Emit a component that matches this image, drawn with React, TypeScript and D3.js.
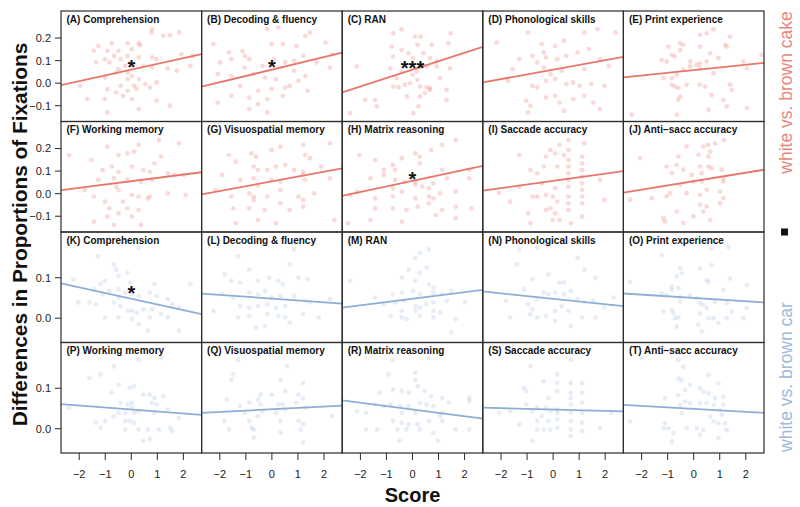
import React from "react";
import * as d3 from "d3";

// ---------- data ----------
const panelTitles = [
  "(A) Comprehension", "(B) Decoding & fluency", "(C) RAN", "(D) Phonological skills", "(E) Print experience",
  "(F) Working memory", "(G) Visuospatial memory", "(H) Matrix reasoning", "(I) Saccade accuracy", "(J) Anti\u2212sacc accuracy",
  "(K) Comprehension", "(L) Decoding & fluency", "(M) RAN", "(N) Phonological skills", "(O) Print experience",
  "(P) Working memory", "(Q) Visuospatial memory", "(R) Matrix reasoning", "(S) Saccade accuracy", "(T) Anti\u2212sacc accuracy",
];

const ptsA = [[0.80,0.24],[0.77,0.225],[1.84,0.225],[1.49,0.213],[1.23,0.21],[-0.75,0.176],[-0.14,0.176],[0.29,0.176],[-1.27,0.165],[0.34,0.168],[-1.44,0.143],[-0.92,0.143],[-0.49,0.143],[0.02,0.15],[-0.66,0.121],[-0.14,0.121],[-1.01,0.106],[-0.41,0.106],[0.29,0.114],[0.80,0.114],[0.97,0.106],[1.92,0.128],[2.35,0.121],[-1.36,0.092],[-0.84,0.092],[-0.24,0.077],[0.11,0.084],[0.46,0.077],[0.80,0.069],[1.40,0.065],[1.75,0.055],[2.27,0.077],[-0.49,0.062],[-0.14,0.047],[0.02,0.032],[-0.58,0.047],[-1.01,0.025],[-0.14,0.018],[0.29,0.018],[-1.96,-0.012],[-0.41,-0.012],[0.11,-0.012],[0.54,-0.004],[0.97,0.003],[0.71,-0.019],[-0.92,-0.027],[-0.14,-0.034],[0.20,-0.027],[-0.58,-0.041],[-0.32,-0.056],[-1.70,-0.071],[-1.01,-0.071],[0.02,-0.071],[0.97,-0.078],[1.49,-0.10],[0.29,-0.115],[-0.92,-0.13]];
const ptsB = [[-2.25,0.173],[-1.65,0.136],[-1.13,0.143],[-1.04,0.121],[-0.01,0.173],[0.42,0.173],[0.94,0.165],[1.28,0.21],[1.46,0.225],[2.06,0.18],[2.32,0.128],[-0.18,0.24],[0.25,0.247],[-1.99,0.092],[-1.56,0.106],[-0.87,0.106],[-0.36,0.077],[0.08,0.106],[0.51,0.092],[0.85,0.099],[1.20,0.121],[1.71,0.092],[2.23,0.069],[-2.08,0.04],[-1.56,0.032],[-0.70,0.04],[-0.27,0.025],[0.16,0.018],[0.68,-0.012],[1.02,0.01],[-1.22,-0.012],[-0.53,-0.034],[-0.01,-0.027],[0.51,-0.019],[-1.56,-0.056],[-0.87,-0.064],[-0.18,-0.071],[0.42,-0.056],[-0.53,-0.093],[-0.87,-0.115],[-0.18,-0.13],[-2.08,-0.086],[1.37,-0.034],[0.85,0.055],[-1.04,0.069],[1.28,0.032]];
const ptsC = [[-0.74,0.221],[-0.42,0.239],[0.10,0.206],[0.31,0.206],[-0.80,0.162],[-0.42,0.147],[0.74,0.17],[0.19,0.17],[0.42,0.133],[-0.74,0.118],[-0.16,0.133],[0.01,0.111],[0.67,0.111],[0.93,0.096],[1.38,0.177],[1.47,0.221],[-2.14,0.074],[-0.86,0.066],[-0.42,0.052],[0.16,0.052],[0.54,0.074],[0.93,0.074],[1.44,0.066],[-0.74,-0.015],[-0.54,-0.018],[-0.29,-0.007],[-0.10,0.0],[0.19,0.015],[0.29,-0.015],[0.54,-0.018],[0.67,-0.03],[0.48,-0.044],[0.29,-0.059],[-1.82,-0.074],[-1.44,-0.074],[-1.37,-0.103],[-0.22,-0.059],[0.23,-0.103],[1.31,-0.03],[1.31,-0.074],[-2.40,-0.133],[0.03,-0.133],[0.67,-0.022],[1.06,0.022],[0.0,0.037],[-0.61,0.022]];
const ptsD = [[-2.17,0.18],[-0.96,0.225],[-0.44,0.173],[-0.36,0.136],[0.08,0.165],[0.42,0.188],[1.20,0.225],[1.71,0.24],[2.40,0.225],[-1.30,0.106],[-0.79,0.121],[-0.27,0.114],[-0.61,0.092],[0.16,0.106],[0.51,0.121],[0.94,0.136],[1.37,0.151],[1.80,0.106],[2.14,0.077],[-1.73,0.01],[-0.79,-0.012],[-0.61,-0.019],[-0.27,0.01],[0.08,0.018],[0.51,-0.004],[0.77,0.003],[1.02,-0.012],[1.46,-0.004],[1.97,-0.012],[-1.04,-0.078],[-0.87,-0.10],[-0.27,-0.064],[0.08,-0.056],[0.25,-0.086],[0.77,-0.071],[1.20,-0.056],[1.54,-0.086],[-0.96,-0.13],[0.42,-0.123],[1.80,-0.115],[-0.36,0.069],[0.33,0.055],[1.20,0.062],[-1.56,0.062],[-0.10,0.04]];
const ptsE = [[0.24,0.214],[0.50,0.221],[0.76,0.239],[-0.97,0.162],[-0.52,0.177],[-0.40,0.17],[-0.84,0.125],[-0.72,0.118],[-0.52,0.147],[-1.23,0.103],[-1.04,0.096],[0.24,0.162],[0.63,0.133],[1.27,0.162],[1.40,0.206],[1.21,0.17],[-0.14,0.096],[0.12,0.081],[0.24,0.088],[0.50,0.096],[0.95,0.111],[1.91,0.096],[2.04,0.066],[2.61,0.125],[-1.16,0.022],[-0.84,0.022],[-0.65,0.037],[-0.40,0.059],[-0.14,0.074],[0.24,0.066],[0.76,0.044],[-0.84,-0.007],[-0.72,-0.015],[-0.59,-0.022],[-0.27,-0.007],[0.24,-0.007],[0.44,-0.015],[1.40,-0.007],[1.46,-0.03],[-0.52,-0.059],[-0.59,-0.074],[0.69,-0.052],[1.14,-0.074],[1.27,-0.103],[0.57,-0.118],[2.04,-0.111],[-2.38,-0.14],[-0.65,-0.14]];
const ptsF = [[-2.39,0.171],[-1.53,0.149],[-0.92,0.208],[-0.49,0.171],[-0.15,0.179],[0.28,0.216],[0.11,0.186],[1.06,0.238],[1.83,0.223],[1.14,0.164],[0.89,0.134],[-0.75,0.12],[-1.10,0.105],[-0.49,0.097],[0.02,0.12],[0.46,0.105],[0.71,0.097],[1.40,0.09],[1.66,0.083],[2.01,0.083],[-1.27,0.061],[-0.67,0.068],[-0.15,0.061],[0.37,0.053],[0.80,0.061],[-0.58,0.031],[-0.49,0.016],[0.02,-0.006],[0.28,-0.013],[0.63,-0.021],[0.71,-0.013],[1.40,0.001],[-1.44,-0.013],[-1.01,-0.035],[-0.32,-0.035],[-0.84,-0.065],[-0.15,-0.065],[0.28,-0.072],[-0.49,-0.087],[-0.92,-0.102],[0.02,-0.102],[-0.67,-0.139],[-1.44,-0.124],[0.37,-0.139],[2.09,-0.006],[-1.79,0.016]];
const ptsG = [[-1.65,0.171],[-1.39,0.142],[-0.79,0.179],[-0.61,0.164],[-0.01,0.194],[0.33,0.208],[1.20,0.216],[2.23,0.223],[1.28,0.171],[1.46,0.157],[-0.70,0.12],[-0.53,0.105],[-0.18,0.105],[0.16,0.12],[0.51,0.127],[0.85,0.105],[1.20,0.097],[1.89,0.12],[-1.91,0.083],[-1.22,0.061],[-0.70,0.068],[-0.53,0.038],[-0.01,0.061],[0.33,0.053],[0.33,0.016],[1.20,0.083],[1.28,0.061],[2.23,0.068],[-1.56,-0.013],[-0.87,0.001],[-0.70,-0.013],[-0.70,-0.028],[-0.18,-0.013],[0.33,-0.043],[1.02,-0.013],[1.20,-0.028],[-2.17,0.016],[-1.48,-0.065],[-0.87,-0.065],[-0.27,-0.072],[0.68,-0.072],[1.20,-0.058],[-0.53,-0.117],[-1.39,-0.131],[0.16,-0.131],[2.40,-0.117],[1.63,0.001]];
const ptsH = [[-2.04,0.171],[-1.44,0.149],[-1.10,0.105],[-0.75,0.127],[-0.67,0.105],[0.11,0.179],[0.28,0.164],[-0.41,0.157],[0.28,0.134],[0.71,0.194],[1.14,0.216],[1.66,0.238],[1.14,0.105],[1.32,0.068],[2.18,0.068],[2.18,0.105],[-1.61,0.068],[-1.10,0.083],[-0.67,0.061],[-0.32,0.053],[0.11,0.053],[-0.75,0.024],[-0.41,0.009],[0.11,0.038],[0.37,0.031],[0.63,0.024],[0.80,0.046],[-2.39,-0.006],[-2.13,0.009],[-1.44,-0.021],[-0.75,-0.013],[0.11,-0.021],[0.63,-0.013],[0.80,-0.021],[1.06,0.001],[1.66,0.009],[-1.44,-0.065],[-0.75,-0.065],[-0.23,-0.072],[0.20,-0.058],[0.63,-0.043],[1.14,-0.072],[1.66,-0.058],[2.27,-0.065],[-0.41,-0.124],[-1.61,-0.117],[-2.48,-0.131],[1.66,-0.109],[0.89,-0.095]];
const ptsI = [[-2.08,0.003],[-1.30,0.171],[-0.87,0.105],[-0.61,0.09],[-0.36,0.12],[-0.27,0.164],[-0.10,0.194],[0.08,0.179],[0.16,0.12],[0.25,0.216],[0.42,0.171],[0.59,0.238],[0.59,0.194],[0.59,0.149],[0.59,0.12],[0.59,0.09],[0.59,0.061],[0.59,0.031],[0.59,-0.013],[0.59,-0.043],[0.59,-0.072],[0.68,-0.131],[1.11,0.164],[1.11,0.134],[1.11,0.105],[1.11,0.075],[1.11,0.046],[1.11,0.016],[1.11,-0.013],[1.11,-0.043],[1.11,-0.102],[-0.61,-0.013],[-0.79,-0.013],[-0.27,-0.006],[0.08,0.024],[-0.01,-0.013],[0.16,-0.035],[-0.27,-0.072],[-0.10,-0.065],[0.08,-0.087],[-0.44,0.046],[-1.30,0.031],[-1.65,-0.035],[-0.96,-0.087],[-0.01,-0.117],[0.25,-0.117],[-0.87,-0.131],[1.20,0.223],[1.80,0.061],[1.97,-0.028]];
const ptsJ = [[-2.06,0.157],[-1.04,0.12],[-0.59,0.164],[-0.27,0.209],[0.18,0.172],[0.37,0.209],[0.57,0.164],[0.82,0.223],[0.63,0.187],[-0.65,0.128],[-0.84,0.091],[-0.40,0.106],[-0.08,0.083],[0.24,0.12],[0.31,0.091],[0.57,0.12],[0.69,0.113],[1.08,0.106],[1.14,0.068],[1.14,0.054],[-0.01,0.054],[0.31,0.054],[-0.52,0.039],[-0.91,0.002],[-0.27,0.002],[0.24,-0.005],[0.50,0.017],[1.01,0.009],[-2.44,-0.027],[-1.61,-0.02],[-1.04,-0.012],[0.24,-0.049],[0.50,-0.057],[0.37,-0.079],[1.01,-0.042],[1.14,-0.02],[-0.65,-0.079],[-1.16,-0.108],[-1.10,-0.123],[-0.40,-0.13],[0.63,-0.116],[-0.01,-0.101],[1.16,0.238],[0.56,0.216]];
const ptsK = [[-2.22,0.096],[-1.27,0.153],[-0.67,0.133],[-0.58,0.12],[0.28,0.174],[-0.15,0.112],[-0.49,0.104],[-1.01,0.092],[-1.18,0.084],[-1.44,0.071],[-1.10,0.059],[-1.61,0.039],[-1.36,0.034],[-0.84,0.067],[-0.49,0.071],[-0.23,0.063],[0.02,0.059],[0.28,0.055],[0.71,0.063],[0.97,0.055],[1.40,0.047],[1.58,0.034],[1.83,0.026],[2.27,0.084],[-0.67,0.039],[-0.41,0.03],[-0.15,0.018],[0.02,0.018],[0.20,0.014],[0.46,0.022],[0.80,0.022],[1.14,0.01],[1.40,0.002],[-1.01,0.002],[-0.49,0.002],[0.02,-0.002],[0.71,0.002],[0.28,-0.015],[1.83,-0.031],[0.63,-0.031],[-2.04,0.039],[-0.06,0.088],[0.89,0.084],[-0.49,0.051]];
const ptsL = [[-1.30,0.153],[0.85,0.17],[0.68,0.133],[-1.82,0.108],[-0.87,0.12],[-1.56,0.092],[-1.22,0.088],[-0.53,0.092],[-0.10,0.10],[0.25,0.092],[0.42,0.084],[1.02,0.10],[1.37,0.096],[-1.91,0.059],[-1.48,0.051],[-0.87,0.063],[-0.53,0.059],[-0.27,0.067],[-0.01,0.051],[0.33,0.055],[0.85,0.055],[1.28,0.043],[1.46,0.039],[-1.22,0.03],[-0.87,0.026],[-0.53,0.03],[-0.18,0.034],[0.16,0.026],[0.51,0.03],[-1.30,0.002],[-0.87,0.006],[-0.18,0.01],[0.25,0.006],[0.51,0.002],[0.68,-0.011],[1.20,0.01],[1.80,0.002],[-0.61,-0.023],[-0.27,-0.019],[-2.25,0.018],[2.23,0.047]];
const ptsM = [[0.11,0.149],[0.28,0.161],[0.63,0.17],[-0.15,0.12],[0.28,0.112],[0.54,0.125],[-2.39,0.092],[-0.41,0.10],[0.11,0.092],[0.63,0.084],[0.80,0.075],[-0.75,0.059],[-0.41,0.063],[0.02,0.067],[0.28,0.059],[0.80,0.063],[1.14,0.059],[1.49,0.067],[-1.10,0.034],[-0.67,0.039],[-0.32,0.043],[0.11,0.03],[0.28,0.026],[0.54,0.034],[0.80,0.039],[1.32,0.043],[2.01,0.039],[-0.84,0.006],[-0.41,0.002],[-0.23,-0.002],[0.28,0.006],[0.80,0.002],[1.06,0.014],[1.66,-0.002],[-1.44,0.051],[1.49,-0.035],[-0.41,0.018],[0.11,0.018],[0.80,0.018]];
const ptsN = [[-1.30,0.17],[-0.61,0.174],[-1.39,0.133],[-0.79,0.096],[-0.18,0.108],[0.25,0.088],[0.94,0.149],[1.20,0.12],[1.63,0.10],[-1.82,0.043],[-0.96,0.034],[-0.79,0.022],[-0.87,0.01],[-0.36,0.063],[-0.18,0.059],[0.08,0.063],[0.42,0.059],[0.68,0.067],[0.94,0.047],[1.20,0.039],[1.54,0.043],[1.97,0.026],[2.32,0.051],[-0.61,0.002],[-0.27,0.006],[0.08,0.018],[0.33,0.03],[0.59,0.018],[1.11,0.002],[1.63,0.002],[-1.65,0.002],[0.08,-0.007],[0.68,-0.019],[-0.61,0.047],[0.42,0.088],[-1.13,0.071]];
const ptsO = [[-1.23,0.156],[0.69,0.172],[1.33,0.176],[0.69,0.131],[0.24,0.123],[-0.52,0.123],[-0.46,0.111],[-0.65,0.103],[0.50,0.094],[0.57,0.09],[-2.44,0.09],[1.14,0.07],[1.40,0.098],[2.04,0.082],[-1.23,0.061],[-1.04,0.057],[-0.84,0.078],[-0.84,0.07],[-0.59,0.074],[-0.52,0.053],[-0.52,0.041],[-0.14,0.057],[0.12,0.049],[0.24,0.037],[0.37,0.033],[0.50,0.025],[0.82,0.041],[1.27,0.037],[-0.84,0.02],[-0.78,0.012],[-0.72,0.0],[-0.59,0.002],[-1.16,0.016],[0.24,0.012],[0.57,0.0],[0.76,0.0],[0.95,-0.012],[1.27,0.0],[1.46,0.016],[1.91,0.0],[2.04,0.025],[-0.65,-0.021],[0.18,-0.016],[0.31,-0.033]];
const ptsP = [[-2.39,0.052],[-1.61,0.125],[-1.18,0.134],[-0.67,0.154],[0.28,0.17],[1.14,0.175],[-0.49,0.109],[-0.75,0.089],[-0.06,0.101],[0.11,0.105],[0.46,0.084],[0.71,0.084],[0.89,0.076],[1.23,0.08],[-0.41,0.064],[-0.15,0.06],[0.02,0.064],[0.80,0.064],[0.97,0.06],[-0.49,0.039],[-0.23,0.039],[-0.67,0.031],[0.11,0.039],[0.28,0.043],[0.89,0.039],[1.40,0.048],[1.83,0.027],[-1.36,0.015],[-1.18,0.002],[-1.01,0.019],[-0.23,0.019],[-0.06,0.019],[0.11,0.015],[-0.23,-0.002],[0.28,-0.002],[0.63,-0.002],[1.06,-0.002],[1.49,0.002],[1.58,-0.006],[0.46,-0.03],[0.71,-0.026],[0.02,0.052]];
const ptsQ = [[-1.30,0.17],[0.59,0.154],[-1.48,0.134],[-1.56,0.121],[0.33,0.121],[1.20,0.113],[-0.44,0.084],[-0.53,0.072],[-0.01,0.084],[0.51,0.093],[1.02,0.084],[1.20,0.076],[-1.73,0.072],[-1.22,0.056],[-0.87,0.064],[-0.44,0.06],[0.25,0.06],[0.42,0.06],[0.94,0.064],[1.28,0.052],[2.32,0.031],[-1.82,0.019],[-1.65,-0.002],[-0.87,0.019],[-0.79,0.002],[-0.70,-0.002],[-0.53,0.031],[0.16,0.039],[0.33,0.019],[1.02,0.019],[1.20,0.011],[1.11,-0.002],[1.20,-0.034],[0.33,-0.01],[-0.70,-0.022],[-1.04,0.039],[0.51,0.048],[-0.36,0.043]];
const ptsR = [[-0.75,0.17],[0.63,0.175],[-0.92,0.134],[0.11,0.138],[0.11,0.121],[-1.27,0.089],[-0.75,0.097],[-0.41,0.093],[-0.15,0.089],[0.20,0.105],[0.46,0.093],[0.71,0.08],[1.14,0.076],[2.18,0.076],[-2.13,0.043],[-1.79,0.039],[-1.44,0.06],[-1.10,0.056],[-0.84,0.06],[-0.49,0.056],[-0.15,0.056],[0.28,0.064],[0.54,0.06],[0.80,0.056],[1.14,0.039],[1.40,0.064],[2.18,0.068],[-1.79,-0.002],[-1.36,-0.002],[-0.75,0.019],[-0.41,0.015],[-0.15,0.011],[0.20,0.011],[0.63,0.019],[1.06,0.031],[1.14,0.019],[1.66,-0.002],[-0.58,-0.002],[-0.23,-0.002],[0.28,-0.002],[0.80,-0.01],[2.18,-0.002],[-0.49,-0.03],[0.97,-0.03],[-0.41,0.039],[0.11,0.039]];
const ptsS = [[-0.87,0.154],[0.68,0.17],[0.16,0.134],[-1.13,0.101],[-1.04,0.093],[-0.36,0.117],[-0.18,0.076],[0.16,0.113],[0.16,0.093],[0.16,0.048],[0.16,0.039],[0.16,0.023],[0.16,0.002],[0.68,0.113],[0.68,0.089],[0.68,0.076],[0.68,0.06],[0.68,0.039],[0.68,0.019],[0.68,-0.002],[0.68,-0.018],[1.11,0.113],[1.11,0.089],[1.11,0.064],[1.11,0.039],[1.11,0.015],[1.11,-0.006],[-2.08,0.039],[-1.65,0.043],[-1.04,0.06],[-0.79,0.043],[-0.61,0.052],[-0.44,0.031],[-0.27,0.052],[-0.10,0.043],[-1.30,0.011],[-0.61,-0.002],[-0.36,-0.002],[-0.10,-0.002],[-0.79,-0.03],[1.80,0.002],[2.23,0.039],[-0.18,0.019],[-0.61,0.019]];
const ptsT = [[-2.00,0.174],[-0.59,0.17],[-0.40,0.153],[-0.59,0.124],[-0.46,0.12],[0.57,0.133],[0.95,0.112],[-1.10,0.075],[-0.59,0.083],[-0.33,0.096],[-0.14,0.108],[0.24,0.1],[0.37,0.091],[0.57,0.087],[0.82,0.075],[1.14,0.079],[1.14,0.059],[-0.52,0.059],[-0.33,0.067],[-0.14,0.063],[0.24,0.063],[0.50,0.063],[0.76,0.059],[1.01,0.046],[-2.44,0.018],[-1.10,0.013],[-1.16,0.001],[-0.97,0.001],[-0.78,-0.011],[-0.46,0.038],[-0.27,0.001],[0.12,0.001],[0.37,-0.003],[0.63,0.03],[0.76,0.018],[0.95,0.013],[1.08,0.034],[1.21,0.013],[1.27,-0.003],[-0.84,-0.032],[0.95,-0.023],[0.24,-0.015]];

// regression line: value = intercept + slope * score
const intercepts = [0.060, 0.060, 0.060, 0.060, 0.058, 0.0555, 0.0545, 0.0565, 0.0565, 0.0555,
  0.048, 0.0485, 0.048, 0.048, 0.050, 0.0475, 0.048, 0.0475, 0.0475, 0.049];
const slopes = [0.0256, 0.0281, 0.0374, 0.0211, 0.0119, 0.0146, 0.0213, 0.0246, 0.0161, 0.0187,
  -0.0141, -0.0046, 0.0081, -0.0067, -0.0041, -0.005, 0.0033, -0.0083, -0.0017, -0.0037];

// significance stars: panel index, score, value
const starPanels = [0, 1, 2, 7, 10];
const starScores = [0, 0, 0, 0, 0];
const starValues = [0.0885, 0.0885, 0.084, 0.083, 0.071];
const starLabels = ["*", "*", "***", "*", "*"];

const xTicks = [-2, -1, 0, 1, 2];
const yTicksCake = [-0.1, 0.0, 0.1, 0.2];
const yTicksCar = [0.0, 0.1];
const xDomain = [-2.7, 2.7];
const yDomainCake = [-0.17, 0.32];
const yDomainCar = [-0.06, 0.213];

const allPoints = [ptsA, ptsB, ptsC, ptsD, ptsE, ptsF, ptsG, ptsH, ptsI, ptsJ,
  ptsK, ptsL, ptsM, ptsN, ptsO, ptsP, ptsQ, ptsR, ptsS, ptsT];

// ---------- layout ----------
const W = 800, H = 507;
const gridL = 61, gridR = 764, gridT = 11, gridB = 453;
const nCols = 5, nRows = 4;
const cellW = (gridR - gridL) / nCols;
const cellH = (gridB - gridT) / nRows;
const FONT = "'Liberation Sans', Arial, Helvetica, sans-serif";
const RED = "#E8766C";
const BLUE = "#8EAED5";
const fmtTick = (v: number) => d3.format(".1f")(v).replace("-", "\u2212");
const fmtX = (v: number) => String(v).replace("-", "\u2212");

export default function App() {
  const panels = [];
  for (let i = 0; i < 20; i++) {
    const r = Math.floor(i / nCols), c = i % nCols;
    const x0 = gridL + c * cellW, y0 = gridT + r * cellH;
    const isCake = r < 2;
    const color = isCake ? RED : BLUE;
    const xs = d3.scaleLinear().domain(xDomain).range([x0, x0 + cellW]);
    const ys = d3.scaleLinear().domain(isCake ? yDomainCake : yDomainCar).range([y0 + cellH, y0]);
    const line = d3.line<number>().x((d) => xs(d)).y((d) => ys(intercepts[i] + slopes[i] * d));
    const clipId = `clip${i}`;
    panels.push(
      <g key={i}>
        <clipPath id={clipId}>
          <rect x={x0} y={y0} width={cellW} height={cellH} />
        </clipPath>
        <g clipPath={`url(#${clipId})`}>
          {allPoints[i].map((p, k) => (
            <circle key={k} cx={xs(p[0])} cy={ys(p[1])} r={2.4} fill={color} fillOpacity={isCake ? 0.27 : 0.22} />
          ))}
          <path d={line(xDomain) || ""} stroke={color} strokeWidth={1.8} fill="none" />
        </g>
        <rect x={x0} y={y0} width={cellW} height={cellH} fill="none" stroke="#2b2b2b" strokeWidth={1.2} />
        <text x={x0 + 5.5} y={y0 + 11.5} fontFamily={FONT} fontWeight="bold" fontSize={10} fill="#111">
          {panelTitles[i]}
        </text>
        {starPanels.map((sp, k) =>
          sp === i ? (
            <text key={"s" + k} x={xs(starScores[k])} y={ys(starValues[k]) + 11} textAnchor="middle"
              fontFamily={FONT} fontWeight="bold" fontSize={20} fill="#111">{starLabels[k]}</text>
          ) : null
        )}
        {c === 0 &&
          (isCake ? yTicksCake : yTicksCar).map((t) => (
            <g key={"y" + t}>
              <line x1={x0 - 6} x2={x0} y1={ys(t)} y2={ys(t)} stroke="#2b2b2b" strokeWidth={1} />
              <text x={x0 - 10} y={ys(t) + 3.9} textAnchor="end" fontFamily={FONT} fontSize={11} fill="#222">
                {fmtTick(t)}
              </text>
            </g>
          ))}
        {r === nRows - 1 &&
          xTicks.map((t) => (
            <g key={"x" + t}>
              <line x1={xs(t)} x2={xs(t)} y1={y0 + cellH} y2={y0 + cellH + 7} stroke="#2b2b2b" strokeWidth={1} />
              <text x={xs(t)} y={y0 + cellH + 24.5} textAnchor="middle" fontFamily={FONT} fontSize={11} fill="#222">
                {fmtX(t)}
              </text>
            </g>
          ))}
      </g>
    );
  }

  return (
    <svg width={W} height={H} style={{ position: "absolute", left: 0, top: 0, background: "#fff" }}>
      <rect x={0} y={0} width={W} height={H} fill="#fff" />
      {panels}
      <text x={(gridL + gridR) / 2} y={501.5} textAnchor="middle" fontFamily={FONT} fontWeight="bold" fontSize={20} fill="#111">
        Score
      </text>
      <text transform={`translate(27,234.5) rotate(-90)`} textAnchor="middle" fontFamily={FONT}
        fontWeight="bold" fontSize={20.8} fill="#111">
        Differences in Proportions of Fixations
      </text>
      <text transform={`translate(791.5,92.5) rotate(-90)`} textAnchor="middle" fontFamily={FONT} fontSize={17.5} fill="#E8867C">
        white vs. brown cake
      </text>
      <rect x={781} y={228.5} width={7} height={7} fill="#111" />
      <text transform={`translate(791.5,377) rotate(-90)`} textAnchor="middle" fontFamily={FONT} fontSize={17.5} fill="#9DB9DB">
        white vs. brown car
      </text>
    </svg>
  );
}
